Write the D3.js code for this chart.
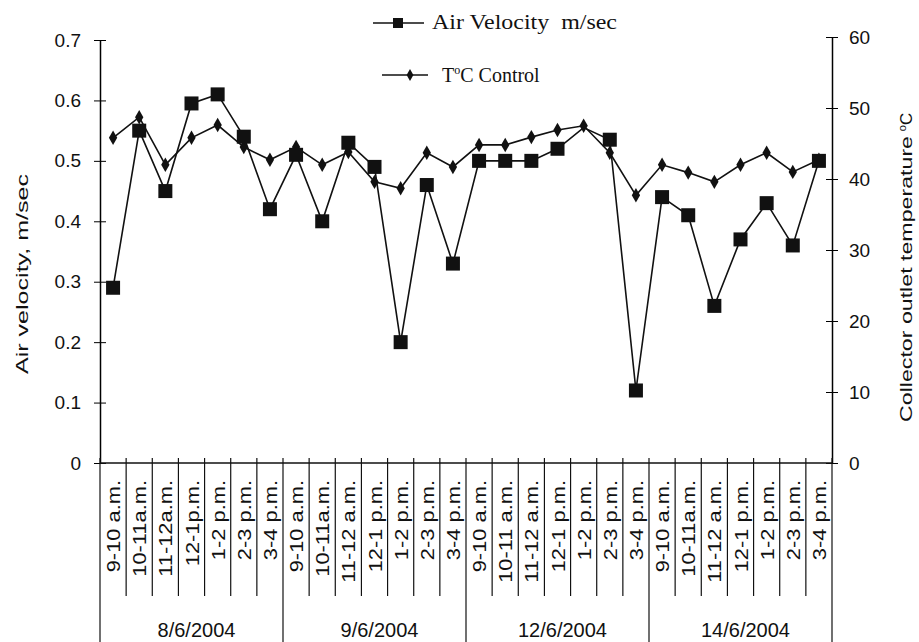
<!DOCTYPE html>
<html lang="en">
<head>
    <meta charset="UTF-8">
    <script src="https://d3js.org/d3.v7.min.js"></script>
    <style>
        body { margin: 0; background: white; }
        text { font-family: Arial, "Liberation Sans", sans-serif; fill: #111; }
        .legend text { font-family: "Liberation Serif", "Times New Roman", serif; white-space: pre; }
    </style>
</head>
<body>
    <svg id="chart" width="919" height="642"></svg>

    <script>
        // time slots for each day
        const timeSlots = [
            "9-10 a.m.", "10-11a.m.", "11-12a.m.", "12-1p.m.", "1-2 p.m.", "2-3 p.m.", "3-4 p.m.",
            "9-10 a.m.", "10-11a.m.", "11-12 a.m.", "12-1 p.m.", "1-2 p.m.", "2-3 p.m.", "3-4 p.m.",
            "9-10 a.m.", "10-11 a.m.", "11-12 a.m.", "12-1 p.m.", "1-2 p.m.", "2-3 p.m.", "3-4 p.m.",
            "9-10 a.m.", "10-11a.m.", "11-12 a.m.", "12-1 p.m.", "1-2 p.m.", "2-3 p.m.", "3-4 p.m."
        ];
        const dates = ["8/6/2004", "9/6/2004", "12/6/2004", "14/6/2004"];
        const slotsPerDay = 7;

        // air velocity, m/sec (left axis)
        const airVelocity = [
            0.29, 0.55, 0.45, 0.595, 0.61, 0.54, 0.42,
            0.51, 0.40, 0.53, 0.49, 0.20, 0.46, 0.33,
            0.50, 0.50, 0.50, 0.52, 0.555, 0.535, 0.12,
            0.44, 0.41, 0.26, 0.37, 0.43, 0.36, 0.50
        ];
        // the square at 12/6 1-2 p.m. is not visible in the original
        const hiddenAirMarkers = [18];
        // collector outlet temperature, control (right axis)
        const tempControl = [
            45.8, 48.7, 42.0, 45.8, 47.6, 44.5, 42.7,
            44.5, 42.0, 43.8, 39.6, 38.7, 43.7, 41.7,
            44.8, 44.8, 45.9, 46.9, 47.5, 43.7, 37.7,
            42.0, 40.9, 39.6, 42.0, 43.7, 41.0, 42.7
        ];
        const leftTicks = [0, 0.1, 0.2, 0.3, 0.4, 0.5, 0.6, 0.7];
        const rightTicks = [0, 10, 20, 30, 40, 50, 60];

        const svg = d3.select("#chart");
        const left = 100, right = 832, bottom = 463;

        const x = d3.scaleBand().domain(d3.range(timeSlots.length)).range([left, right]);
        const yL = d3.scaleLinear().domain([0, 0.7]).range([bottom, 40]);
        const yR = d3.scaleLinear().domain([0, 60]).range([bottom, 37]);
        const cx = i => x(i) + x.bandwidth() / 2;

        // left axis
        const gL = svg.append("g").attr("transform", `translate(${left},0)`)
            .call(d3.axisLeft(yL).tickValues(leftTicks).tickFormat(d => d === 0 ? "0" : d3.format(".1f")(d)).tickSizeInner(6).tickSizeOuter(0));
        gL.selectAll(".tick line").attr("x2", 6).attr("x1", -6);
        gL.selectAll("text").attr("x", -19).style("font-size", "19px");
        gL.select(".domain").attr("stroke-width", 1.5);

        // right axis
        const gR = svg.append("g").attr("transform", `translate(${right},0)`)
            .call(d3.axisRight(yR).tickValues(rightTicks).tickSizeInner(6).tickSizeOuter(0));
        gR.selectAll(".tick line").attr("x1", -6).attr("x2", 6);
        gR.selectAll("text").attr("x", 17).style("font-size", "19px");
        gR.select(".domain").attr("stroke-width", 1.5);

        // bottom axis line with small ticks
        svg.append("line").attr("x1", left).attr("x2", right).attr("y1", bottom).attr("y2", bottom)
            .attr("stroke", "#111").attr("stroke-width", 1.5);

        const bounds = d3.range(timeSlots.length + 1);
        svg.selectAll(".sep")
            .data(bounds)
            .enter().append("line")
            .attr("class", "sep")
            .attr("x1", i => i < timeSlots.length ? x(i) : right)
            .attr("x2", i => i < timeSlots.length ? x(i) : right)
            .attr("y1", bottom - 5)
            .attr("y2", i => i % slotsPerDay === 0 ? 642 : 596)
            .attr("stroke", "#111")
            .attr("stroke-width", 1.2);

        // slot labels, rotated
        svg.selectAll(".slot")
            .data(timeSlots)
            .enter().append("text")
            .attr("class", "slot")
            .attr("transform", (d, i) => `translate(${cx(i) + 7},${bottom + 17}) rotate(-90) scale(1.15,1)`)
            .attr("text-anchor", "end")
            .style("font-size", "19px")
            .text(d => d);

        // date labels
        svg.selectAll(".date")
            .data(dates)
            .enter().append("text")
            .attr("class", "date")
            .attr("x", (d, i) => (x(i * slotsPerDay) + (i === dates.length - 1 ? right : x((i + 1) * slotsPerDay))) / 2 + 5)
            .attr("y", 637)
            .attr("text-anchor", "middle")
            .style("font-size", "20px")
            .text(d => d);

        // axis titles
        svg.append("text")
            .attr("transform", "translate(28,274) rotate(-90)")
            .attr("text-anchor", "middle")
            .attr("textLength", 200)
            .attr("lengthAdjust", "spacingAndGlyphs")
            .style("font-size", "17px")
            .text("Air velocity, m/sec");
        svg.append("text")
            .attr("transform", "translate(912,279) rotate(-90)")
            .attr("text-anchor", "middle")
            .attr("textLength", 286)
            .attr("lengthAdjust", "spacingAndGlyphs")
            .style("font-size", "17px")
            .text("Collector outlet temperature");
        svg.append("text")
            .attr("transform", "translate(912,122) rotate(-90)")
            .attr("text-anchor", "middle")
            .style("font-size", "17px")
            .html('<tspan baseline-shift="super" font-size="11px">o</tspan>C');

        // lines
        const lineAir = d3.line().x((d, i) => cx(i)).y(d => yL(d));
        const lineTemp = d3.line().x((d, i) => cx(i)).y(d => yR(d));

        svg.append("path").datum(tempControl).attr("d", lineTemp)
            .attr("fill", "none").attr("stroke", "#111").attr("stroke-width", 1.6);
        svg.append("path").datum(airVelocity).attr("d", lineAir)
            .attr("fill", "none").attr("stroke", "#111").attr("stroke-width", 1.6);

        const diamond = d3.symbol().type(d3.symbolDiamond).size(60);
        svg.selectAll(".tmark")
            .data(tempControl)
            .enter().append("path")
            .attr("class", "tmark")
            .attr("d", diamond)
            .attr("transform", (d, i) => `translate(${cx(i)},${yR(d)})`)
            .attr("fill", "#111");

        svg.selectAll(".amark")
            .data(airVelocity.map((v, i) => ({ v, i })).filter(d => !hiddenAirMarkers.includes(d.i)))
            .enter().append("rect")
            .attr("class", "amark")
            .attr("x", d => cx(d.i) - 7)
            .attr("y", d => yL(d.v) - 7)
            .attr("width", 14)
            .attr("height", 14)
            .attr("fill", "#111");

        // legend
        const legend = svg.append("g").attr("class", "legend");
        legend.append("line").attr("x1", 373).attr("x2", 424).attr("y1", 23).attr("y2", 23)
            .attr("stroke", "#111").attr("stroke-width", 1.6);
        legend.append("rect").attr("x", 393).attr("y", 18).attr("width", 10).attr("height", 10).attr("fill", "#111");
        legend.append("text").attr("x", 432).attr("y", 29).style("font-size", "20px")
            .attr("textLength", 185).attr("lengthAdjust", "spacingAndGlyphs")
            .text("Air Velocity  m/sec");

        legend.append("line").attr("x1", 382).attr("x2", 428).attr("y1", 75).attr("y2", 75)
            .attr("stroke", "#111").attr("stroke-width", 1.6);
        legend.append("path").attr("d", d3.symbol().type(d3.symbolDiamond).size(40))
            .attr("transform", "translate(410,75)").attr("fill", "#111");
        legend.append("text").attr("x", 442).attr("y", 82).style("font-size", "20px")
            .html('T<tspan dy="-8" font-size="12px">o</tspan><tspan dy="8">C Control</tspan>');
    </script>
</body>
</html>
